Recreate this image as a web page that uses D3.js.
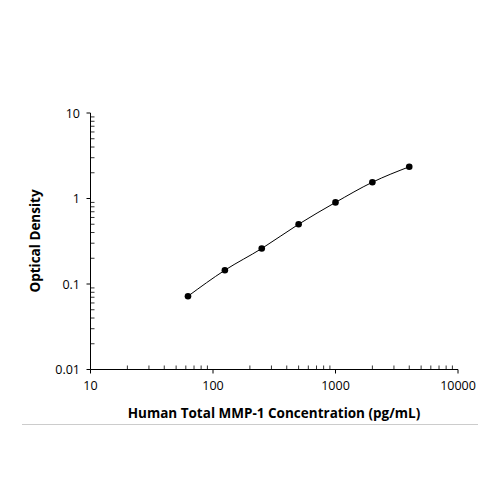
<!DOCTYPE html>
<html><head><meta charset="utf-8">
<script src="https://cdn.jsdelivr.net/npm/d3@7"></script>
<style>body{margin:0;background:#fff}text{font-family:"Open Sans",sans-serif}</style>
</head><body>
<svg id="c" width="500" height="500"></svg>
<script>
// standard curve data
var conc = [62.5, 125, 250, 500, 1000, 2000, 4000];
var od = [0.072, 0.145, 0.26, 0.5, 0.9, 1.55, 2.35];
var xTicks = [10, 100, 1000, 10000];
var yTicks = [0.01, 0.1, 1, 10];

var svg = d3.select("#c");
var x = d3.scaleLog().domain([10, 10000]).range([90.5, 458]);
var y = d3.scaleLog().domain([0.01, 10]).range([369.5, 113]);

// minor ticks, inward
var minorX = [], minorY = [];
[10, 100, 1000].forEach(function(d){ for (var k = 2; k < 10; k++) minorX.push(d*k); });
[0.01, 0.1, 1].forEach(function(d){ for (var k = 2; k < 10; k++) minorY.push(d*k); });

var g = svg.append("g").attr("stroke", "#000");
g.selectAll(".mx").data(minorX).enter().append("line")
  .attr("x1", d => x(d)).attr("x2", d => x(d)).attr("y1", 369.5).attr("y2", 365.5).attr("stroke-width", 0.8);
g.selectAll(".my").data(minorY).enter().append("line")
  .attr("y1", d => y(d)).attr("y2", d => y(d)).attr("x1", 90.5).attr("x2", 94.5).attr("stroke-width", 0.8);
g.selectAll(".Mx").data(xTicks).enter().append("line")
  .attr("x1", d => x(d)).attr("x2", d => x(d)).attr("y1", 369.5).attr("y2", 373.5);
g.selectAll(".My").data(yTicks).enter().append("line")
  .attr("y1", d => y(d)).attr("y2", d => y(d)).attr("x1", 86.5).attr("x2", 90.5);
g.append("line").attr("x1", 90.5).attr("x2", 458).attr("y1", 369.5).attr("y2", 369.5);
g.append("line").attr("x1", 90.5).attr("x2", 90.5).attr("y1", 113).attr("y2", 369.5);

svg.selectAll(".xl").data(xTicks).enter().append("text")
  .attr("x", d => x(d)).attr("y", 390).attr("text-anchor", "middle")
  .attr("font-size", 12.5).text(d => d);
svg.selectAll(".yl").data(yTicks).enter().append("text")
  .attr("x", 80).attr("y", d => y(d) + 4.5).attr("text-anchor", "end")
  .attr("font-size", 12.5).text(d => d);

svg.append("text").attr("x", 274).attr("y", 418).attr("text-anchor", "middle")
  .attr("font-size", 13.5).attr("font-weight", "bold").text("Human Total MMP-1 Concentration (pg/mL)");
svg.append("text").attr("transform", "translate(40,241) rotate(-90)").attr("text-anchor", "middle")
  .attr("font-size", 13.5).attr("font-weight", "bold").text("Optical Density");
svg.append("line").attr("x1", 22).attr("x2", 478).attr("y1", 424.5).attr("y2", 424.5)
  .attr("stroke", "#ccc");

var pts = conc.map((c, i) => [c, od[i]]);
svg.append("path").datum(pts)
  .attr("d", d3.line().x(d => x(d[0])).y(d => y(d[1])).curve(d3.curveMonotoneX))
  .attr("fill", "none").attr("stroke", "#000").attr("stroke-width", 1);
svg.selectAll(".pt").data(pts).enter().append("circle")
  .attr("cx", d => x(d[0])).attr("cy", d => y(d[1])).attr("r", 3.3).attr("fill", "#000");
</script>
</body></html>
